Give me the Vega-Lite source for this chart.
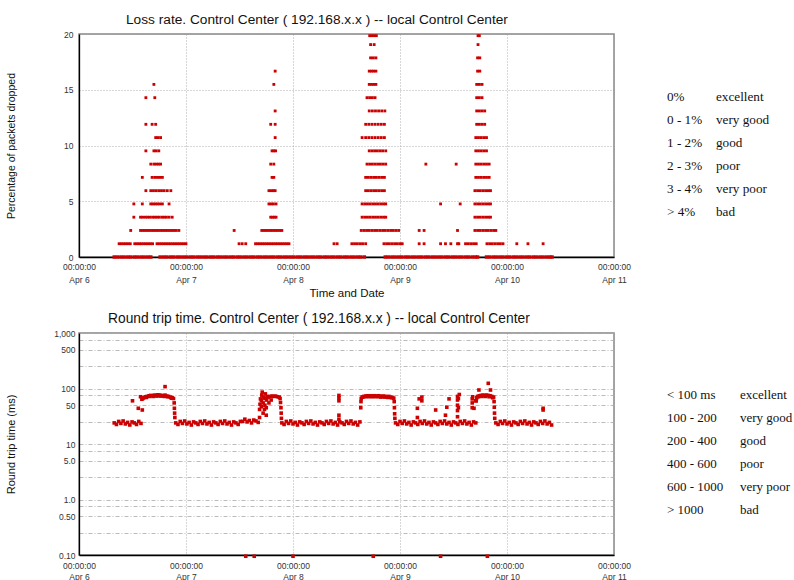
{
"$schema":"https://vega.github.io/schema/vega-lite/v6.json",
"background":"white",
"padding":{"left":4,"top":12,"right":0,"bottom":0},
"config":{"font":"Liberation Sans","view":{"stroke":"#888","strokeWidth":1.5},
"axis":{"labelFont":"Liberation Sans","labelFontSize":8.5,"labelColor":"#333","ticks":false,"domainColor":"#000","domainWidth":1.3,"gridColor":"#999","gridDash":[1,2],"gridWidth":0.8,"titleFont":"Liberation Sans","titleFontWeight":"normal","titleColor":"#111","labelFlush":false,"labelOverlap":false}},
"datasets":{
"loss":[
{"t":7.9,"v":0},{"t":8.6,"v":0},{"t":9.4,"v":0},{"t":10.1,"v":0},{"t":10.9,"v":0},{"t":11.6,"v":0},{"t":12.4,"v":0},{"t":13.1,"v":0},{"t":13.9,"v":0},{"t":14.6,"v":0},{"t":15.4,"v":0},{"t":16.1,"v":0},{"t":18.2,"v":0},{"t":19,"v":0},{"t":19.7,"v":0},{"t":20.5,"v":0},{"t":21.2,"v":0},{"t":22,"v":0},{"t":22.7,"v":0},{"t":23.5,"v":0},{"t":24.2,"v":0},{"t":25,"v":0},{"t":25.7,"v":0},{"t":26.5,"v":0},{"t":27.2,"v":0},{"t":28,"v":0},{"t":28.7,"v":0},{"t":29.5,"v":0},{"t":30.2,"v":0},{"t":31,"v":0},{"t":31.7,"v":0},{"t":32.5,"v":0},{"t":33.2,"v":0},{"t":34,"v":0},{"t":34.7,"v":0},{"t":35.5,"v":0},{"t":36.2,"v":0},{"t":37,"v":0},{"t":37.7,"v":0},{"t":38.5,"v":0},{"t":39.2,"v":0},{"t":40,"v":0},{"t":40.7,"v":0},{"t":41.5,"v":0},{"t":42.2,"v":0},{"t":43,"v":0},{"t":43.7,"v":0},{"t":44.5,"v":0},{"t":45.2,"v":0},{"t":46,"v":0},{"t":46.7,"v":0},{"t":47.5,"v":0},{"t":48.2,"v":0},{"t":49,"v":0},{"t":49.7,"v":0},{"t":50.5,"v":0},{"t":51.2,"v":0},{"t":52,"v":0},{"t":52.7,"v":0},{"t":53.5,"v":0},{"t":54.2,"v":0},{"t":55,"v":0},{"t":55.7,"v":0},{"t":56.5,"v":0},{"t":57.2,"v":0},{"t":58,"v":0},{"t":58.7,"v":0},{"t":59.5,"v":0},{"t":60.2,"v":0},{"t":61,"v":0},{"t":61.7,"v":0},{"t":62.5,"v":0},{"t":63.2,"v":0},{"t":64,"v":0},{"t":68.7,"v":0},{"t":69.4,"v":0},{"t":70.2,"v":0},{"t":70.9,"v":0},{"t":71.7,"v":0},{"t":72.4,"v":0},{"t":73.2,"v":0},{"t":73.9,"v":0},{"t":74.7,"v":0},{"t":75.4,"v":0},{"t":76.2,"v":0},{"t":76.9,"v":0},{"t":77.7,"v":0},{"t":78.4,"v":0},{"t":79.2,"v":0},{"t":79.9,"v":0},{"t":80.7,"v":0},{"t":81.4,"v":0},{"t":82.2,"v":0},{"t":82.9,"v":0},{"t":83.7,"v":0},{"t":84.4,"v":0},{"t":85.2,"v":0},{"t":85.9,"v":0},{"t":86.7,"v":0},{"t":87.4,"v":0},{"t":88.2,"v":0},{"t":88.9,"v":0},{"t":89.4,"v":0},{"t":91.4,"v":0},{"t":92.1,"v":0},{"t":92.9,"v":0},{"t":93.6,"v":0},{"t":94.4,"v":0},{"t":95.1,"v":0},{"t":95.9,"v":0},{"t":96.6,"v":0},{"t":97.4,"v":0},{"t":98.1,"v":0},{"t":98.9,"v":0},{"t":99.6,"v":0},{"t":100.4,"v":0},{"t":101.1,"v":0},{"t":101.9,"v":0},{"t":102.6,"v":0},{"t":103.4,"v":0},{"t":104.1,"v":0},{"t":104.9,"v":0},{"t":105.6,"v":0},{"t":106.1,"v":0},
{"t":9,"v":1.19},{"t":9.5,"v":1.19},{"t":10,"v":1.19},{"t":10.5,"v":1.19},{"t":11,"v":1.19},{"t":11.5,"v":1.19},{"t":12.5,"v":1.19},{"t":13,"v":1.19},{"t":13.5,"v":1.19},{"t":14,"v":1.19},{"t":14.5,"v":1.19},{"t":15,"v":1.19},{"t":15.5,"v":1.19},{"t":16,"v":1.19},{"t":16.5,"v":1.19},{"t":17.5,"v":1.19},{"t":18,"v":1.19},{"t":18.5,"v":1.19},{"t":19,"v":1.19},{"t":19.5,"v":1.19},{"t":20,"v":1.19},{"t":20.5,"v":1.19},{"t":21,"v":1.19},{"t":21.5,"v":1.19},{"t":22,"v":1.19},{"t":22.5,"v":1.19},{"t":23,"v":1.19},{"t":23.5,"v":1.19},{"t":24,"v":1.19},
{"t":35.9,"v":1.19},{"t":36.6,"v":1.19},{"t":37.4,"v":1.19},{"t":39.6,"v":1.19},{"t":40.1,"v":1.19},{"t":40.6,"v":1.19},{"t":41.1,"v":1.19},{"t":41.6,"v":1.19},{"t":42.1,"v":1.19},{"t":42.6,"v":1.19},{"t":43.1,"v":1.19},{"t":43.6,"v":1.19},{"t":44.1,"v":1.19},{"t":44.6,"v":1.19},{"t":45.1,"v":1.19},{"t":45.6,"v":1.19},{"t":46.1,"v":1.19},{"t":46.6,"v":1.19},{"t":47.1,"v":1.19},
{"t":57.2,"v":1.19},{"t":57.9,"v":1.19},{"t":61.2,"v":1.19},{"t":61.8,"v":1.19},{"t":62.4,"v":1.19},{"t":63,"v":1.19},{"t":63.6,"v":1.19},{"t":64.3,"v":1.19},{"t":68.4,"v":1.19},{"t":69,"v":1.19},{"t":69.6,"v":1.19},{"t":70.2,"v":1.19},{"t":70.8,"v":1.19},{"t":71.4,"v":1.19},{"t":72,"v":1.19},{"t":72.5,"v":1.19},
{"t":76.3,"v":1.19},{"t":77.4,"v":1.19},{"t":81.1,"v":1.19},{"t":82.2,"v":1.19},{"t":83.4,"v":1.19},{"t":84.9,"v":1.19},{"t":85.2,"v":1.19},{"t":86.7,"v":1.19},{"t":87.3,"v":1.19},{"t":87.9,"v":1.19},{"t":88.5,"v":1.19},{"t":89.1,"v":1.19},
{"t":91.5,"v":1.19},{"t":92.1,"v":1.19},{"t":92.7,"v":1.19},{"t":93.3,"v":1.19},{"t":93.9,"v":1.19},{"t":94.5,"v":1.19},{"t":95.1,"v":1.19},{"t":98.2,"v":1.19},{"t":100.7,"v":1.19},{"t":104.1,"v":1.19},
{"t":11.6,"v":2.38},{"t":13.8,"v":2.38},{"t":14.3,"v":2.38},{"t":14.8,"v":2.38},{"t":15.3,"v":2.38},{"t":15.8,"v":2.38},{"t":16.3,"v":2.38},{"t":16.8,"v":2.38},{"t":17.3,"v":2.38},{"t":17.8,"v":2.38},{"t":18.3,"v":2.38},{"t":18.8,"v":2.38},{"t":19.3,"v":2.38},{"t":19.8,"v":2.38},{"t":20.3,"v":2.38},{"t":20.8,"v":2.38},{"t":21.3,"v":2.38},{"t":21.8,"v":2.38},{"t":22.4,"v":2.38},
{"t":34.8,"v":2.38},{"t":41,"v":2.38},{"t":41.5,"v":2.38},{"t":42,"v":2.38},{"t":42.5,"v":2.38},{"t":43,"v":2.38},{"t":43.5,"v":2.38},{"t":44,"v":2.38},{"t":44.5,"v":2.38},{"t":45,"v":2.38},{"t":45.5,"v":2.38},
{"t":63.3,"v":2.38},{"t":63.9,"v":2.38},{"t":64.5,"v":2.38},{"t":65.1,"v":2.38},{"t":65.7,"v":2.38},{"t":66.3,"v":2.38},{"t":66.9,"v":2.38},{"t":67.5,"v":2.38},{"t":68.1,"v":2.38},{"t":68.7,"v":2.38},{"t":69.3,"v":2.38},{"t":69.9,"v":2.38},{"t":70.5,"v":2.38},{"t":71.1,"v":2.38},{"t":71.7,"v":2.38},
{"t":76.3,"v":2.38},{"t":77.4,"v":2.38},{"t":84.9,"v":2.38},{"t":88.8,"v":2.38},{"t":89.4,"v":2.38},{"t":90,"v":2.38},{"t":90.6,"v":2.38},{"t":91.2,"v":2.38},{"t":91.8,"v":2.38},{"t":92.4,"v":2.38},{"t":93,"v":2.38},{"t":93.5,"v":2.38},
{"t":12.3,"v":3.57},{"t":13.8,"v":3.57},{"t":14.3,"v":3.57},{"t":14.9,"v":3.57},{"t":15.4,"v":3.57},{"t":15.9,"v":3.57},{"t":16.5,"v":3.57},{"t":17,"v":3.57},{"t":17.5,"v":3.57},{"t":18,"v":3.57},{"t":18.6,"v":3.57},{"t":19.1,"v":3.57},{"t":19.6,"v":3.57},{"t":20.2,"v":3.57},{"t":20.9,"v":3.57},
{"t":43,"v":3.57},{"t":43.4,"v":3.57},{"t":43.8,"v":3.57},{"t":44.2,"v":3.57},
{"t":63.5,"v":3.57},{"t":64.1,"v":3.57},{"t":64.7,"v":3.57},{"t":65.3,"v":3.57},{"t":65.9,"v":3.57},{"t":66.5,"v":3.57},{"t":67.1,"v":3.57},{"t":67.7,"v":3.57},{"t":68.3,"v":3.57},{"t":68.8,"v":3.57},
{"t":88.8,"v":3.57},{"t":89.4,"v":3.57},{"t":90,"v":3.57},{"t":90.6,"v":3.57},{"t":91.2,"v":3.57},{"t":91.8,"v":3.57},{"t":92.3,"v":3.57},
{"t":12.3,"v":4.76},{"t":14.2,"v":4.76},{"t":16.1,"v":4.76},{"t":16.6,"v":4.76},{"t":17.1,"v":4.76},{"t":17.6,"v":4.76},{"t":18.1,"v":4.76},{"t":18.7,"v":4.76},{"t":20.2,"v":4.76},
{"t":42.6,"v":4.76},{"t":43.1,"v":4.76},{"t":43.6,"v":4.76},{"t":44.2,"v":4.76},
{"t":63.5,"v":4.76},{"t":64.1,"v":4.76},{"t":64.7,"v":4.76},{"t":65.3,"v":4.76},{"t":65.9,"v":4.76},{"t":66.5,"v":4.76},{"t":67.1,"v":4.76},{"t":67.7,"v":4.76},{"t":68.3,"v":4.76},{"t":68.8,"v":4.76},
{"t":81.1,"v":4.76},{"t":85.5,"v":4.76},{"t":88.8,"v":4.76},{"t":89.4,"v":4.76},{"t":90,"v":4.76},{"t":90.6,"v":4.76},{"t":91.2,"v":4.76},{"t":91.8,"v":4.76},{"t":92.3,"v":4.76},
{"t":15,"v":5.95},{"t":16.1,"v":5.95},{"t":16.7,"v":5.95},{"t":17.3,"v":5.95},{"t":17.9,"v":5.95},{"t":18.5,"v":5.95},{"t":19.1,"v":5.95},{"t":19.8,"v":5.95},{"t":20.6,"v":5.95},
{"t":42.6,"v":5.95},{"t":43.1,"v":5.95},{"t":43.6,"v":5.95},{"t":44,"v":5.95},
{"t":64.3,"v":5.95},{"t":64.9,"v":5.95},{"t":65.5,"v":5.95},{"t":66.1,"v":5.95},{"t":66.7,"v":5.95},{"t":67.3,"v":5.95},{"t":67.9,"v":5.95},{"t":68.5,"v":5.95},
{"t":88.8,"v":5.95},{"t":89.4,"v":5.95},{"t":90,"v":5.95},{"t":90.6,"v":5.95},{"t":91.2,"v":5.95},{"t":91.8,"v":5.95},{"t":92.3,"v":5.95},
{"t":14.2,"v":7.14},{"t":16.4,"v":7.14},{"t":17,"v":7.14},{"t":17.6,"v":7.14},{"t":18.1,"v":7.14},{"t":18.7,"v":7.14},
{"t":43.3,"v":7.14},{"t":43.7,"v":7.14},
{"t":64.3,"v":7.14},{"t":64.9,"v":7.14},{"t":65.5,"v":7.14},{"t":66.1,"v":7.14},{"t":66.7,"v":7.14},{"t":67.3,"v":7.14},{"t":67.9,"v":7.14},{"t":68.5,"v":7.14},
{"t":89,"v":7.14},{"t":89.6,"v":7.14},{"t":90.2,"v":7.14},{"t":90.8,"v":7.14},{"t":91.4,"v":7.14},{"t":92,"v":7.14},
{"t":16.1,"v":8.33},{"t":16.8,"v":8.33},{"t":17.3,"v":8.33},{"t":17.8,"v":8.33},{"t":18.3,"v":8.33},
{"t":43,"v":8.33},{"t":43.7,"v":8.33},
{"t":64.6,"v":8.33},{"t":65.2,"v":8.33},{"t":65.8,"v":8.33},{"t":66.4,"v":8.33},{"t":67,"v":8.33},{"t":67.6,"v":8.33},{"t":68.2,"v":8.33},{"t":68.8,"v":8.33},
{"t":77.8,"v":8.33},{"t":84.6,"v":8.33},
{"t":89,"v":8.33},{"t":89.6,"v":8.33},{"t":90.2,"v":8.33},{"t":90.8,"v":8.33},{"t":91.4,"v":8.33},{"t":92,"v":8.33},
{"t":15,"v":9.52},{"t":16.8,"v":9.52},{"t":17.3,"v":9.52},{"t":17.9,"v":9.52},
{"t":43.3,"v":9.52},{"t":43.7,"v":9.52},{"t":44.1,"v":9.52},
{"t":65.1,"v":9.52},{"t":65.7,"v":9.52},{"t":66.3,"v":9.52},{"t":66.9,"v":9.52},{"t":67.5,"v":9.52},{"t":68.1,"v":9.52},{"t":68.8,"v":9.52},
{"t":89,"v":9.52},{"t":89.6,"v":9.52},{"t":90.2,"v":9.52},{"t":90.8,"v":9.52},{"t":91.4,"v":9.52},
{"t":17.2,"v":10.71},{"t":17.7,"v":10.71},{"t":18.3,"v":10.71},
{"t":44,"v":10.71},
{"t":63.5,"v":10.71},{"t":64.3,"v":10.71},{"t":65,"v":10.71},{"t":65.7,"v":10.71},{"t":66.4,"v":10.71},{"t":67.1,"v":10.71},{"t":67.8,"v":10.71},{"t":68.5,"v":10.71},
{"t":89,"v":10.71},{"t":89.6,"v":10.71},{"t":90.2,"v":10.71},{"t":90.8,"v":10.71},{"t":91.4,"v":10.71},
{"t":15,"v":11.9},{"t":16.4,"v":11.9},{"t":17.2,"v":11.9},
{"t":43,"v":11.9},{"t":44,"v":11.9},
{"t":64.3,"v":11.9},{"t":65,"v":11.9},{"t":65.7,"v":11.9},{"t":66.4,"v":11.9},{"t":67.1,"v":11.9},{"t":67.8,"v":11.9},{"t":68.5,"v":11.9},
{"t":89.2,"v":11.9},{"t":89.8,"v":11.9},{"t":90.4,"v":11.9},{"t":91,"v":11.9},
{"t":44,"v":13.1},
{"t":65.1,"v":13.1},{"t":65.8,"v":13.1},{"t":66.5,"v":13.1},{"t":67.2,"v":13.1},{"t":67.9,"v":13.1},{"t":68.6,"v":13.1},
{"t":89.2,"v":13.1},{"t":89.8,"v":13.1},{"t":90.4,"v":13.1},{"t":91,"v":13.1},
{"t":15,"v":14.29},{"t":17,"v":14.29},
{"t":64.6,"v":14.29},{"t":65.2,"v":14.29},{"t":65.8,"v":14.29},{"t":66.4,"v":14.29},
{"t":89.2,"v":14.29},{"t":89.8,"v":14.29},{"t":90.4,"v":14.29},
{"t":16.8,"v":15.48},{"t":43.7,"v":15.48},
{"t":65.1,"v":15.48},{"t":65.6,"v":15.48},{"t":66.1,"v":15.48},{"t":66.6,"v":15.48},
{"t":89.2,"v":15.48},{"t":89.8,"v":15.48},{"t":90.4,"v":15.48},
{"t":44,"v":16.67},
{"t":65.1,"v":16.67},{"t":65.6,"v":16.67},{"t":66.1,"v":16.67},{"t":66.6,"v":16.67},
{"t":89.4,"v":16.67},{"t":89.9,"v":16.67},
{"t":65.4,"v":17.86},{"t":66,"v":17.86},{"t":66.6,"v":17.86},{"t":89.4,"v":17.86},{"t":89.9,"v":17.86},
{"t":65.4,"v":19.05},{"t":66.2,"v":19.05},{"t":89.5,"v":19.05},
{"t":65.2,"v":19.85},{"t":65.7,"v":19.85},{"t":66.2,"v":19.85},{"t":66.7,"v":19.85},{"t":89.5,"v":19.85},{"t":89.8,"v":19.85}
],
"rtt":[
{"t":7.9,"r":24},{"t":8.4,"r":22.5},{"t":8.9,"r":25.5},{"t":9.4,"r":23.5},{"t":9.9,"r":26},{"t":10.4,"r":23},{"t":10.9,"r":24.5},{"t":11.4,"r":22},{"t":11.9,"r":25},{"t":12.4,"r":24},{"t":12.9,"r":22.5},{"t":13.4,"r":25.5},{"t":13.9,"r":23.5},
{"t":12,"r":60},{"t":13.3,"r":44},{"t":13.8,"r":71},{"t":14.2,"r":41},
{"t":14.1,"r":64},{"t":14.5,"r":68},{"t":14.9,"r":71},{"t":15.3,"r":72},{"t":15.7,"r":74},{"t":16.1,"r":75},{"t":16.5,"r":74},{"t":16.9,"r":76},{"t":17.3,"r":75},{"t":17.7,"r":77},{"t":18.1,"r":76},{"t":18.5,"r":75},{"t":18.9,"r":74},{"t":19.3,"r":76},{"t":19.7,"r":73},{"t":20.1,"r":72},{"t":20.5,"r":70},{"t":20.9,"r":68},{"t":21.2,"r":66},
{"t":14.3,"r":66},{"t":15.1,"r":69},{"t":15.9,"r":72},{"t":16.7,"r":72},{"t":17.5,"r":73},{"t":18.3,"r":73},{"t":19.1,"r":72},{"t":19.9,"r":71},{"t":20.7,"r":67},
{"t":19.3,"r":108},{"t":21.35,"r":55},{"t":21.4,"r":44},{"t":21.45,"r":36},{"t":21.5,"r":30},
{"t":21.7,"r":24},{"t":22.2,"r":22.5},{"t":22.7,"r":25.5},{"t":23.2,"r":23.5},{"t":23.7,"r":26},{"t":24.2,"r":23},{"t":24.7,"r":24.5},{"t":25.2,"r":22},{"t":25.7,"r":25},{"t":26.2,"r":24},{"t":26.7,"r":22.5},{"t":27.2,"r":25.5},{"t":27.7,"r":23.5},{"t":28.2,"r":26},{"t":28.7,"r":23},{"t":29.2,"r":24.5},{"t":29.7,"r":22},{"t":30.2,"r":25},{"t":30.7,"r":24},{"t":31.2,"r":22.5},{"t":31.7,"r":25.5},{"t":32.2,"r":23.5},{"t":32.7,"r":26},{"t":33.2,"r":23},{"t":33.7,"r":24.5},{"t":34.2,"r":22},{"t":34.7,"r":25},{"t":35.2,"r":24},{"t":35.7,"r":22.5},{"t":36.2,"r":25.5},{"t":36.7,"r":25.5},{"t":37.2,"r":28},{"t":37.7,"r":25},{"t":38.2,"r":26.5},{"t":38.7,"r":24},{"t":39.2,"r":27},{"t":39.7,"r":26},{"t":40.2,"r":24.5},
{"t":40.5,"r":30},{"t":40.5,"r":42},{"t":40.6,"r":52},{"t":40.7,"r":65},{"t":40.9,"r":47},{"t":40.9,"r":60},{"t":41,"r":76},{"t":41.1,"r":86},{"t":41.3,"r":36},{"t":41.3,"r":55},{"t":41.4,"r":70},{"t":41.6,"r":42},{"t":41.7,"r":50},{"t":41.7,"r":66},{"t":41.8,"r":80},{"t":42,"r":33},{"t":42,"r":45},{"t":42.1,"r":62},{"t":42.2,"r":72},{"t":42.5,"r":70},{"t":42.6,"r":55},{"t":42.9,"r":72},{"t":43.1,"r":62},{"t":43.3,"r":73},{"t":43.7,"r":72},{"t":44.1,"r":73},{"t":44.5,"r":71},{"t":44.9,"r":70},{"t":45.1,"r":66},{"t":45.2,"r":56},{"t":45.3,"r":45},{"t":45.35,"r":36},{"t":45.4,"r":29},
{"t":45.5,"r":24},{"t":46,"r":22.5},{"t":46.5,"r":25.5},{"t":47,"r":23.5},{"t":47.5,"r":26},{"t":48,"r":23},{"t":48.5,"r":24.5},{"t":49,"r":22},{"t":49.5,"r":25},{"t":50,"r":24},{"t":50.5,"r":22.5},{"t":51,"r":25.5},{"t":51.5,"r":23.5},{"t":52,"r":26},{"t":52.5,"r":23},{"t":53,"r":24.5},{"t":53.5,"r":22},{"t":54,"r":25},{"t":54.5,"r":24},{"t":55,"r":22.5},{"t":55.5,"r":25.5},{"t":56,"r":23.5},{"t":56.5,"r":26},{"t":57,"r":23},{"t":57.5,"r":24.5},{"t":58,"r":22},{"t":58.5,"r":25},{"t":59,"r":24},{"t":59.5,"r":22.5},{"t":60,"r":25.5},{"t":60.5,"r":23.5},{"t":61,"r":26},{"t":61.5,"r":23},{"t":62,"r":24.5},{"t":62.5,"r":22},{"t":63,"r":25},
{"t":58.3,"r":75},{"t":58.3,"r":68},{"t":58.3,"r":60},{"t":58.3,"r":33},{"t":58.3,"r":28},
{"t":63.2,"r":45},{"t":63.25,"r":58},{"t":63.3,"r":66},{"t":63.5,"r":70},{"t":63.9,"r":72},{"t":64.3,"r":73},{"t":64.7,"r":74},{"t":65.1,"r":73},{"t":65.5,"r":74},{"t":65.9,"r":73},{"t":66.3,"r":74},{"t":66.7,"r":73},{"t":67.1,"r":74},{"t":67.5,"r":73},{"t":67.9,"r":72},{"t":68.3,"r":73},{"t":68.7,"r":72},{"t":69.1,"r":71},{"t":69.5,"r":72},{"t":69.9,"r":70},{"t":70.3,"r":69},{"t":70.6,"r":67},
{"t":63.7,"r":70},{"t":64.5,"r":71},{"t":65.3,"r":71},{"t":66.1,"r":71},{"t":66.9,"r":71},{"t":67.7,"r":70},{"t":68.5,"r":70},{"t":69.3,"r":69},{"t":70.1,"r":68},
{"t":70.7,"r":58},{"t":70.75,"r":45},{"t":70.8,"r":35},{"t":70.85,"r":29},
{"t":71,"r":24},{"t":71.5,"r":22.5},{"t":72,"r":25.5},{"t":72.5,"r":23.5},{"t":73,"r":26},{"t":73.5,"r":23},{"t":74,"r":24.5},{"t":74.5,"r":22},{"t":75,"r":25},{"t":75.5,"r":24},{"t":76,"r":22.5},{"t":76.5,"r":25.5},{"t":77,"r":23.5},{"t":77.5,"r":26},{"t":78,"r":23},{"t":78.5,"r":24.5},{"t":79,"r":22},{"t":79.5,"r":25},{"t":80,"r":24},{"t":80.5,"r":22.5},{"t":81,"r":25.5},{"t":81.5,"r":23.5},{"t":82,"r":26},{"t":82.5,"r":23},{"t":83,"r":24.5},{"t":83.5,"r":22},{"t":84,"r":25},{"t":84.5,"r":24},{"t":85,"r":22.5},{"t":85.5,"r":25.5},{"t":86,"r":23.5},{"t":86.5,"r":26},{"t":87,"r":23},{"t":87.5,"r":24.5},{"t":88,"r":22},{"t":88.5,"r":25},{"t":89,"r":24},
{"t":75.9,"r":44},{"t":75.9,"r":30},{"t":76.3,"r":65},{"t":76.9,"r":60},{"t":76.9,"r":70},{"t":80,"r":41},{"t":82.2,"r":33},{"t":82.5,"r":46},{"t":83,"r":65},{"t":84.9,"r":31},{"t":84.9,"r":40},{"t":84.9,"r":50},{"t":84.9,"r":62},{"t":84.9,"r":72},{"t":85.1,"r":45},{"t":85.1,"r":66},{"t":85.3,"r":78},{"t":88.2,"r":45},{"t":88.2,"r":55},{"t":88.2,"r":65},{"t":88.3,"r":71},{"t":88.6,"r":44},{"t":89,"r":60},
{"t":89.1,"r":60},{"t":89.2,"r":68},{"t":89.4,"r":72},{"t":89.8,"r":74},{"t":90.2,"r":75},{"t":90.6,"r":76},{"t":91,"r":75},{"t":91.4,"r":76},{"t":91.8,"r":75},{"t":92.2,"r":74},{"t":92.6,"r":72},{"t":93,"r":70},
{"t":89.6,"r":71},{"t":90.4,"r":72},{"t":91.2,"r":72},{"t":92,"r":71},{"t":92.8,"r":68},
{"t":91.8,"r":124},{"t":89.7,"r":94},{"t":92.3,"r":94},
{"t":93.1,"r":58},{"t":93.15,"r":46},{"t":93.2,"r":36},{"t":93.25,"r":29},
{"t":93.5,"r":24},{"t":94,"r":22.5},{"t":94.5,"r":25.5},{"t":95,"r":23.5},{"t":95.5,"r":26},{"t":96,"r":23},{"t":96.5,"r":24.5},{"t":97,"r":22},{"t":97.5,"r":25},{"t":98,"r":24},{"t":98.5,"r":22.5},{"t":99,"r":25.5},{"t":99.5,"r":23.5},{"t":100,"r":26},{"t":100.5,"r":23},{"t":101,"r":24.5},{"t":101.5,"r":22},{"t":102,"r":25},{"t":102.5,"r":24},{"t":103,"r":22.5},{"t":103.5,"r":25.5},{"t":104,"r":23.5},{"t":104.5,"r":26},{"t":105,"r":23},{"t":105.5,"r":24.5},{"t":106,"r":22},
{"t":104.1,"r":44},{"t":104.1,"r":41},
{"t":37.4,"r":0.095},{"t":39.3,"r":0.095},{"t":48,"r":0.095},{"t":66,"r":0.095},{"t":81.1,"r":0.095},{"t":91.6,"r":0.095}
],
"leg1":[
{"r":0,"c":0,"s":"0%"},{"r":0,"c":1,"s":"excellent"},
{"r":1,"c":0,"s":"0 - 1%"},{"r":1,"c":1,"s":"very good"},
{"r":2,"c":0,"s":"1 - 2%"},{"r":2,"c":1,"s":"good"},
{"r":3,"c":0,"s":"2 - 3%"},{"r":3,"c":1,"s":"poor"},
{"r":4,"c":0,"s":"3 - 4%"},{"r":4,"c":1,"s":"very poor"},
{"r":5,"c":0,"s":"> 4%"},{"r":5,"c":1,"s":"bad"}
],
"leg2":[
{"r":0,"c":0,"s":"< 100 ms"},{"r":0,"c":1,"s":"excellent"},
{"r":1,"c":0,"s":"100 - 200"},{"r":1,"c":1,"s":"very good"},
{"r":2,"c":0,"s":"200 - 400"},{"r":2,"c":1,"s":"good"},
{"r":3,"c":0,"s":"400 - 600"},{"r":3,"c":1,"s":"poor"},
{"r":4,"c":0,"s":"600 - 1000"},{"r":4,"c":1,"s":"very poor"},
{"r":5,"c":0,"s":"> 1000"},{"r":5,"c":1,"s":"bad"}
]
},
"spacing":11,
"vconcat":[
{"hconcat":[
{"width":535,"height":223,
"title":{"text":"Loss rate. Control Center ( 192.168.x.x ) -- local Control Center","anchor":"start","frame":"group","dx":47,"fontSize":13.7,"fontWeight":"normal","font":"Liberation Sans","color":"#111","offset":3},
"data":{"name":"loss"},
"encoding":{
"x":{"field":"t","type":"quantitative","scale":{"domain":[0,120],"nice":false,"zero":false},"axis":{"values":[0,24,48,72,96,120],"labelExpr":"['00:00:00','Apr '+(6+datum.value/24)]","labelLineHeight":13.5,"labelPadding":5,"title":"Time and Date","titleFontSize":11.5,"titlePadding":3,"grid":true}},
"y":{"field":"v","type":"quantitative","scale":{"domain":[0,20],"nice":false},"axis":{"values":[0,5,10,15,20],"title":"Percentage of packets dropped","titleFontSize":10.5,"titleX":-63,"labelPadding":6,"grid":true}}
},
"layer":[
{"transform":[{"filter":"datum.v == 0"}],"mark":{"type":"point","shape":"square","filled":true,"size":12,"color":"#cc0000","opacity":1}},
{"transform":[{"filter":"datum.v > 0"}],"mark":{"type":"point","shape":"square","filled":true,"size":8,"color":"#cc0000","opacity":1}}
]},
{"width":150,"height":223,"view":{"stroke":null},"data":{"name":"leg1"},
"mark":{"type":"text","align":"left","baseline":"middle","font":"Liberation Serif","fontSize":13.2,"color":"#111"},
"encoding":{
"x":{"field":"c","type":"quantitative","scale":{"domain":[-0.653,2.408],"nice":false,"zero":false},"axis":null},
"y":{"field":"r","type":"quantitative","scale":{"domain":[-2.739,6.957],"nice":false,"zero":false,"reverse":true},"axis":null},
"text":{"field":"s"}}}
],"spacing":3},
{"hconcat":[
{"width":535,"height":222,
"title":{"text":"Round trip time. Control Center ( 192.168.x.x ) -- local Control Center","anchor":"start","frame":"group","dx":29,"fontSize":13.8,"fontWeight":"normal","font":"Liberation Sans","color":"#111","offset":3},
"data":{"name":"rtt"},
"mark":{"type":"point","shape":"square","filled":true,"size":13,"color":"#cc0000","opacity":1},
"encoding":{
"x":{"field":"t","type":"quantitative","scale":{"domain":[0,120],"nice":false,"zero":false},"axis":{"values":[0,24,48,72,96,120],"labelExpr":"['00:00:00','Apr '+(6+datum.value/24)]","labelLineHeight":11,"labelPadding":6,"title":null,"grid":true}},
"y":{"field":"r","type":"quantitative","scale":{"type":"log","domain":[0.1,1000],"nice":false},"axis":{"values":[0.1,0.25,0.5,0.75,1,2.5,5,7.5,10,25,50,75,100,250,500,750,1000],"labelExpr":"datum.value==1000?'1,000':datum.value==500?'500':datum.value==100?'100':datum.value==50?'50':datum.value==10?'10':datum.value==5?'5.0':datum.value==1?'1.0':datum.value==0.5?'0.50':datum.value==0.1?'0.10':''","gridDash":[4,2,1,2],"gridColor":"#aaa","title":"Round trip time (ms)","titleFontSize":11,"titleX":-63,"labelPadding":4,"grid":true}}
}},
{"width":150,"height":222,"view":{"stroke":null},"data":{"name":"leg2"},
"mark":{"type":"text","align":"left","baseline":"middle","font":"Liberation Serif","fontSize":13,"color":"#111"},
"encoding":{
"x":{"field":"c","type":"quantitative","scale":{"domain":[-0.438,1.616],"nice":false,"zero":false},"axis":null},
"y":{"field":"r","type":"quantitative","scale":{"domain":[-2.696,6.957],"nice":false,"zero":false,"reverse":true},"axis":null},
"text":{"field":"s"}}}
],"spacing":3}
]
}
